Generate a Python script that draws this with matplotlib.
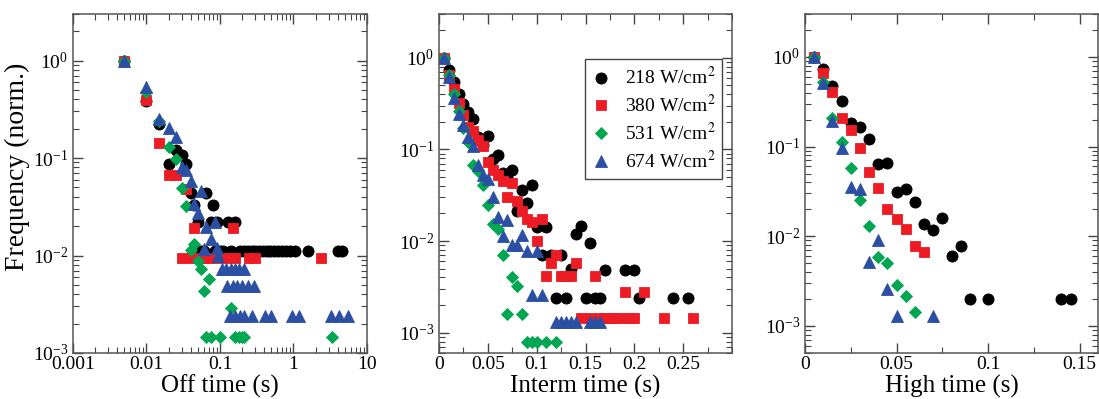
import numpy as np
import matplotlib
matplotlib.use('Agg')
import matplotlib.pyplot as plt
from matplotlib import ticker

plt.rcParams['font.family'] = ['Liberation Serif', 'DejaVu Serif']
plt.rcParams['mathtext.fontset'] = 'stix'

labels = ['218 W/cm$^2$', '380 W/cm$^2$', '531 W/cm$^2$', '674 W/cm$^2$']
colors = ['black', '#ed1c24', '#00a651', '#2b4fa2']
markers = ['o', 's', 'D', '^']
msizes = [8, 7, 6, 8]

# ---- Off time (log-log) ----
off_x_218 = [0.005, 0.01, 0.015, 0.02, 0.025, 0.03, 0.035, 0.04, 0.045, 0.05, 0.055, 0.06,
             0.065, 0.075, 0.08, 0.085, 0.09, 0.1, 0.11, 0.13, 0.14, 0.16, 0.19, 0.21, 0.24,
             0.27, 0.3, 0.34, 0.38, 0.43, 0.48, 0.55, 0.62, 0.7, 0.8, 0.9, 1.05, 1.6, 4.1, 4.6]
off_y_218 = [1.0, 0.38, 0.225, 0.086, 0.12, 0.107, 0.087, 0.044, 0.033, 0.022, 0.011, 0.011,
             0.044, 0.022, 0.033, 0.011, 0.022, 0.011, 0.011, 0.022, 0.011, 0.022, 0.011, 0.011, 0.011,
             0.011, 0.011, 0.011, 0.011, 0.011, 0.011, 0.011, 0.011, 0.011, 0.011, 0.011, 0.011, 0.011, 0.011, 0.011]
off_x_380 = [0.005, 0.01, 0.015, 0.02, 0.025, 0.03, 0.035, 0.04, 0.045, 0.05, 0.06, 0.07,
             0.09, 0.12, 0.15, 0.16, 0.25, 0.3, 2.4]
off_y_380 = [1.0, 0.39, 0.142, 0.067, 0.067, 0.0095, 0.048, 0.0095, 0.019, 0.0095, 0.0095, 0.0095,
             0.0095, 0.0095, 0.019, 0.0095, 0.0095, 0.0095, 0.0095]
off_x_531 = [0.005, 0.01, 0.015, 0.02, 0.025, 0.03, 0.035, 0.04, 0.045, 0.05, 0.055, 0.06,
             0.065, 0.07, 0.075, 0.1, 0.14, 0.16, 0.18, 0.2, 0.21, 3.3]
off_y_531 = [1.0, 0.47, 0.24, 0.13, 0.098, 0.049, 0.032, 0.0115, 0.013, 0.0088, 0.0072, 0.0043,
             0.00145, 0.0057, 0.00145, 0.00145, 0.0029, 0.00145, 0.00145, 0.00145, 0.00145, 0.00145]
off_x_674 = [0.005, 0.01, 0.015, 0.02, 0.025, 0.03, 0.035, 0.04, 0.045, 0.05, 0.055, 0.06,
             0.065, 0.075, 0.085, 0.09, 0.095,
             0.105, 0.12, 0.14, 0.16, 0.18, 0.21,
             0.125, 0.15, 0.17, 0.2, 0.24, 0.29,
             0.135, 0.16, 0.19, 0.21, 0.27, 0.41, 0.5, 0.95, 1.2, 3.2, 4.2, 5.6]
off_y_674 = [1.0, 0.53, 0.25, 0.205, 0.165, 0.081, 0.075, 0.058, 0.034, 0.027, 0.046, 0.0117,
             0.0198, 0.0148, 0.0222, 0.012, 0.0098,
             0.0073, 0.0073, 0.0073, 0.0073, 0.0073, 0.0073,
             0.0049, 0.0049, 0.0049, 0.0049, 0.0049, 0.0049,
             0.0024, 0.0024, 0.0024, 0.0024, 0.0024, 0.0024, 0.0024, 0.0024, 0.0024, 0.0024, 0.0024, 0.0024]

# ---- Interm time ----
int_x_218 = [0.005, 0.01, 0.015, 0.02, 0.025, 0.03, 0.035, 0.04, 0.045, 0.05, 0.055, 0.06,
             0.065, 0.07, 0.075, 0.08, 0.085, 0.09, 0.095, 0.1, 0.105, 0.11, 0.115, 0.12,
             0.125, 0.13, 0.135, 0.14, 0.145, 0.15, 0.155, 0.16, 0.165, 0.17, 0.19, 0.2,
             0.205, 0.24, 0.255]
int_y_218 = [1.0, 0.73, 0.54, 0.40, 0.31, 0.256, 0.213, 0.137, 0.111, 0.14, 0.078, 0.087,
             0.055, 0.050, 0.060, 0.0215, 0.036, 0.026, 0.041, 0.0144, 0.0071, 0.0144, 0.0071, 0.0024,
             0.0071, 0.0024, 0.005, 0.0119, 0.0147, 0.0024, 0.0095, 0.0024, 0.0024, 0.0048, 0.0048, 0.0048,
             0.0024, 0.0024, 0.0024]
int_x_380 = [0.005, 0.01, 0.015, 0.02, 0.025, 0.03, 0.035, 0.04, 0.045, 0.05, 0.055, 0.06,
             0.065, 0.07, 0.075, 0.08, 0.085, 0.09, 0.095, 0.1, 0.105, 0.11, 0.115, 0.12,
             0.125, 0.13, 0.135, 0.14, 0.145, 0.155, 0.16, 0.165, 0.17, 0.175, 0.18, 0.185,
             0.19, 0.195, 0.2, 0.21, 0.23, 0.26]
int_y_380 = [1.0, 0.64, 0.46, 0.32, 0.236, 0.176, 0.158, 0.128, 0.109, 0.072, 0.059, 0.053,
             0.045, 0.030, 0.043, 0.027, 0.0215, 0.0172, 0.016, 0.0101, 0.0172, 0.0042, 0.0057, 0.0071,
             0.0042, 0.0042, 0.0042, 0.0057, 0.00143, 0.00143, 0.0042, 0.00143, 0.00143, 0.00143, 0.00143, 0.00143,
             0.0028, 0.00143, 0.00143, 0.0028, 0.00143, 0.00143]
int_x_531 = [0.005, 0.01, 0.015, 0.02, 0.025, 0.03, 0.035, 0.04, 0.045, 0.05, 0.055, 0.06,
             0.065, 0.07, 0.075, 0.08, 0.085, 0.09, 0.095, 0.1, 0.11, 0.12]
int_y_531 = [1.0, 0.65, 0.406, 0.26, 0.173, 0.12, 0.067, 0.058, 0.041, 0.0248, 0.0153, 0.0135,
             0.0071, 0.0016, 0.0041, 0.0032, 0.0016, 0.0008, 0.0008, 0.0008, 0.0008, 0.0008]
int_x_674 = [0.005, 0.01, 0.015, 0.02, 0.025, 0.03, 0.035, 0.04, 0.045, 0.05, 0.055, 0.06,
             0.065, 0.07, 0.075, 0.08, 0.085, 0.09, 0.095, 0.1, 0.105, 0.12, 0.125, 0.13,
             0.135, 0.14, 0.155, 0.16, 0.165]
int_y_674 = [1.0, 0.62, 0.36, 0.244, 0.186, 0.137, 0.11, 0.068, 0.0526, 0.047, 0.0305, 0.0182,
             0.0114, 0.0168, 0.009, 0.009, 0.0116, 0.0077, 0.00256, 0.0077, 0.00256, 0.0013, 0.0013, 0.0013,
             0.0013, 0.0013, 0.0013, 0.0013, 0.0013]

# ---- High time ----
high_x_218 = [0.005, 0.01, 0.015, 0.02, 0.025, 0.03, 0.035, 0.04, 0.045, 0.05, 0.055, 0.06,
              0.065, 0.07, 0.075, 0.08, 0.085, 0.09, 0.1, 0.14, 0.145]
high_y_218 = [1.0, 0.73, 0.476, 0.324, 0.184, 0.166, 0.121, 0.0634, 0.065, 0.0315, 0.0334, 0.0238,
              0.0138, 0.0118, 0.0159, 0.006, 0.0078, 0.002, 0.002, 0.002, 0.002]
high_x_380 = [0.005, 0.01, 0.015, 0.02, 0.025, 0.03, 0.035, 0.04, 0.045, 0.05, 0.055, 0.06, 0.065]
high_y_380 = [1.0, 0.664, 0.401, 0.21, 0.153, 0.0955, 0.0517, 0.0343, 0.020, 0.0155, 0.0122, 0.0078, 0.0067]
high_x_531 = [0.005, 0.01, 0.015, 0.02, 0.025, 0.03, 0.035, 0.04, 0.045, 0.05, 0.055, 0.06]
high_y_531 = [1.0, 0.527, 0.206, 0.113, 0.0573, 0.0254, 0.0129, 0.0058, 0.005, 0.00288, 0.00218, 0.00143]
high_x_674 = [0.005, 0.01, 0.015, 0.02, 0.025, 0.03, 0.035, 0.04, 0.045, 0.05, 0.07]
high_y_674 = [1.0, 0.514, 0.194, 0.0972, 0.0358, 0.0334, 0.0051, 0.0091, 0.0026, 0.00128, 0.00128]

fig = plt.figure(figsize=(10.99, 3.99), dpi=100)
ax1 = fig.add_axes([0.0664, 0.1153, 0.2675, 0.8496])
ax2 = fig.add_axes([0.3995, 0.1153, 0.2666, 0.8496])
ax3 = fig.add_axes([0.7325, 0.1153, 0.2666, 0.8496])

panels = [
    (ax1, [(off_x_218, off_y_218), (off_x_380, off_y_380), (off_x_531, off_y_531), (off_x_674, off_y_674)]),
    (ax2, [(int_x_218, int_y_218), (int_x_380, int_y_380), (int_x_531, int_y_531), (int_x_674, int_y_674)]),
    (ax3, [(high_x_218, high_y_218), (high_x_380, high_y_380), (high_x_531, high_y_531), (high_x_674, high_y_674)]),
]

for ax, series in panels:
    for (x, y), c, m, ms, lab in zip(series, colors, markers, msizes, labels):
        ax.plot(x, y, linestyle='none', marker=m, color=c, markersize=ms,
                markeredgewidth=0.6, markeredgecolor=c, label=lab)
    ax.set_yscale('log')
    ax.tick_params(which='both', direction='in', top=True, right=True,
                   color='#444444', labelsize=14)
    ax.tick_params(axis='x', pad=2)
    ax.tick_params(which='major', length=7, width=1)
    ax.tick_params(which='minor', length=4, width=0.8)
    ax.yaxis.set_minor_locator(ticker.LogLocator(base=10, subs=np.arange(2, 10)))
    ax.yaxis.set_minor_formatter(ticker.NullFormatter())
    for s in ax.spines.values():
        s.set_color('#555555')
        s.set_linewidth(1.1)

fmt = ticker.FuncFormatter(lambda v, p: '%g' % v)

ax1.set_xscale('log')
ax1.set_xlim(0.001, 10)
ax1.set_ylim(1e-3, 3)
ax1.xaxis.set_major_formatter(fmt)
ax1.xaxis.set_minor_locator(ticker.LogLocator(base=10, subs=np.arange(2, 10)))
ax1.xaxis.set_minor_formatter(ticker.NullFormatter())
ax1.set_xlabel('Off time (s)', fontsize=18)
ax1.set_ylabel('Frequency (norm.)', fontsize=20)
ax1.yaxis.set_label_coords(-0.145, 0.55)

ax2.set_xlim(0, 0.3)
ax2.set_ylim(6e-4, 3)
ax2.set_xticks([0, 0.05, 0.1, 0.15, 0.2, 0.25])
ax2.xaxis.set_major_formatter(fmt)
ax2.xaxis.set_minor_locator(ticker.MultipleLocator(0.025))
ax2.set_xlabel('Interm time (s)', fontsize=18)

ax3.set_xlim(0, 0.16)
ax3.set_ylim(5e-4, 3)
ax3.set_xticks([0, 0.05, 0.1, 0.15])
ax3.xaxis.set_major_formatter(fmt)
ax3.xaxis.set_minor_locator(ticker.MultipleLocator(0.025))
ax3.set_xlabel('High time (s)', fontsize=18)

for ax in (ax1, ax2, ax3):
    ax.xaxis.set_label_coords(0.5, -0.064)

leg = ax2.legend(loc='upper right', bbox_to_anchor=(0.966, 0.866), borderaxespad=0,
                 numpoints=1, fontsize=14, frameon=True, fancybox=False, framealpha=1,
                 handlelength=1.0, handletextpad=0.7, labelspacing=0.3, borderpad=0.35)
leg.get_frame().set_edgecolor('#444444')
leg.get_frame().set_linewidth(1.0)

fig.savefig('out.png', dpi=100)
